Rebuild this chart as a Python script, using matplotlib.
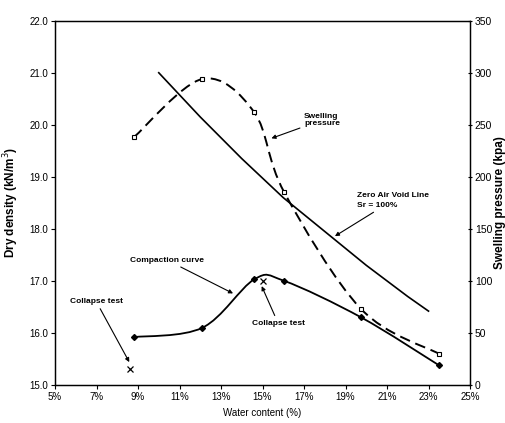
import numpy as np
import matplotlib
matplotlib.use("Agg")
import matplotlib.pyplot as plt
from matplotlib.path import Path
from matplotlib.patches import PathPatch

plt.rcParams["font.family"] = ["Liberation Sans Narrow", "Liberation Sans", "DejaVu Sans"]

# water content (%) and dry density (kN/m3) -- compaction curve
comp_w = [8.8, 12.1, 14.6, 16.05, 19.75, 23.5]
comp_d = [15.92, 16.1, 17.03, 17.0, 16.3, 15.38]

# swelling pressure (kPa) on the right axis
swell_w = [8.8, 12.1, 14.6, 16.05, 19.75, 23.5]
swell_p = [238, 294, 262, 185, 73, 30]

# zero air void line (Sr = 100%)
zav_w = [10.0, 12.0, 14.0, 16.0, 18.0, 20.0, 22.0, 23.0]
zav_d = [21.0, 20.15, 19.35, 18.6, 17.95, 17.3, 16.7, 16.42]

# collapse tests
coll_w = [8.6, 15.0]
coll_d = [15.3, 17.0]

xticks = [5, 7, 9, 11, 13, 15, 17, 19, 21, 23, 25]
yticks = [15, 16, 17, 18, 19, 20, 21, 22]
y2ticks = [0, 50, 100, 150, 200, 250, 300, 350]


def smooth_path(xs, ys):
    # Excel-style smoothed line: Catmull-Rom segments as cubic Beziers
    p = np.column_stack([xs, ys]).astype(float)
    n = len(p)
    verts = [p[0]]
    codes = [Path.MOVETO]
    for i in range(n - 1):
        p0 = p[i - 1] if i > 0 else p[i]
        p3 = p[i + 2] if i + 2 < n else p[i + 1]
        c1 = p[i] + (p[i + 1] - p0) / 6.0
        c2 = p[i + 1] - (p3 - p[i]) / 6.0
        verts += [c1, c2, p[i + 1]]
        codes += [Path.CURVE4] * 3
    return Path(verts, codes)


fig = plt.figure(figsize=(5.06, 4.23), dpi=100)
ax = fig.add_axes([0.1087, 0.0898, 0.8202, 0.8613])
ax2 = ax.twinx()

ax.add_patch(PathPatch(smooth_path(comp_w, comp_d), fill=False, ec="black", lw=1.3))
ax.plot(comp_w, comp_d, ls="none", marker="D", ms=3, color="black")
ax.plot(zav_w, zav_d, color="black", lw=1.2)
ax.plot(coll_w, coll_d, ls="none", marker="x", ms=5, mew=0.9, color="black")

ax2.add_patch(PathPatch(smooth_path(swell_w, swell_p), fill=False, ec="black", lw=1.4,
                        ls=(0, (5.5, 3))))
ax2.plot(swell_w, swell_p, ls="none", marker="s", ms=3.5, mfc="white", mec="black", mew=0.8)

ax.set_xlim(5, 25)
ax.set_ylim(15, 22)
ax2.set_ylim(0, 350)
ax.set_xticks(xticks)
ax.set_xticklabels([f"{t}%" for t in xticks])
ax.set_yticks(yticks)
ax.set_yticklabels([f"{t:.1f}" for t in yticks])
ax2.set_yticks(y2ticks)

ax.tick_params(axis="both", labelsize=7, length=3, width=0.8, pad=2)
ax2.tick_params(axis="y", labelsize=7.5, length=3, width=0.8, direction="inout", pad=2)
for a in (ax, ax2):
    for s in a.spines.values():
        s.set_linewidth(0.9)

ax.set_ylabel("Dry density (kN/m$^3$)", fontsize=8.5, fontweight="bold", labelpad=6)
ax2.set_ylabel("Swelling pressure (kpa)", fontsize=8.5, fontweight="bold", labelpad=1)
ax.set_xlabel("Water content (%)", fontsize=7, labelpad=4)

arrow = dict(arrowstyle="-|>", color="black", lw=0.8, mutation_scale=6, shrinkA=1, shrinkB=0)
kw = dict(fontsize=6, fontweight="bold", arrowprops=arrow)
ax.annotate("Swelling\npressure", xy=(15.43, 19.74), xytext=(17.0, 20.09),
            ha="left", va="center", linespacing=1.1, **kw)
ax.annotate("Zero Air Void Line\nSr = 100%", xy=(18.49, 17.86), xytext=(19.55, 18.55),
            ha="left", va="center", linespacing=1.6, **kw)
ax.annotate("Compaction curve", xy=(13.58, 16.76), xytext=(10.4, 17.4),
            ha="center", va="center", **kw)
ax.annotate("Collapse test", xy=(8.58, 15.44), xytext=(6.98, 16.61),
            ha="center", va="center", **kw)
ax.annotate("Collapse test", xy=(14.96, 16.9), xytext=(15.75, 16.19),
            ha="center", va="center", **kw)

fig.savefig("out.png", dpi=100)
